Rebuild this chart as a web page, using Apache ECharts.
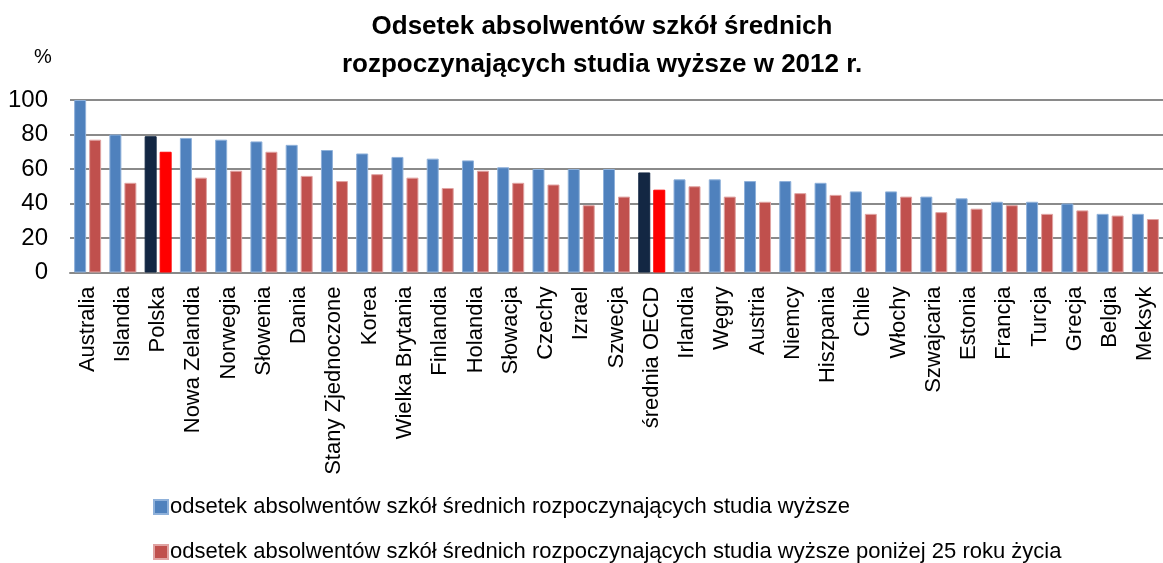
<!DOCTYPE html>
<html>
<head>
<meta charset="utf-8">
<script src="https://cdn.jsdelivr.net/npm/echarts@6/dist/echarts.min.js"></script>
<style>
  html,body{margin:0;padding:0;background:#fff;}
  #chart{width:1163px;height:563px;}
</style>
</head>
<body>
<div id="chart"></div>
<script>
var kraje = ['Australia','Islandia','Polska','Nowa Zelandia','Norwegia','Słowenia','Dania','Stany Zjednoczone','Korea','Wielka Brytania','Finlandia','Holandia','Słowacja','Czechy','Izrael','Szwecja','średnia OECD','Irlandia','Węgry','Austria','Niemcy','Hiszpania','Chile','Włochy','Szwajcaria','Estonia','Francja','Turcja','Grecja','Belgia','Meksyk'];
// odsetek absolwentów rozpoczynających studia wyższe
var ogolem = [100,80,79,78,77,76,74,71,69,67,66,65,61,60,60,60,58,54,54,53,53,52,47,47,44,43,41,41,40,34,34];
// to samo, poniżej 25 roku życia
var ponizej25 = [77,52,70,55,59,70,56,53,57,55,49,59,52,51,39,44,48,50,44,41,46,45,34,44,35,37,39,34,36,33,31];
var yTicks = [0,20,40,60,80,100];
var wyrozniane = ['Polska','średnia OECD'];

var nazwa1 = 'odsetek absolwentów szkół średnich rozpoczynających studia wyższe';
var nazwa2 = 'odsetek absolwentów szkół średnich rozpoczynających studia wyższe poniżej 25 roku życia';

var font = "'Liberation Sans', Arial, sans-serif";

var chart = echarts.init(document.getElementById('chart'));

// Polska i średnia OECD maja inne kolory
var dane1 = [], dane2 = [];
for (var i = 0; i < kraje.length; i++) {
    if (wyrozniane.indexOf(kraje[i]) >= 0) {
        dane1.push({value: ogolem[i], itemStyle: {color: '#132743', borderColor: '#132743'}});
        dane2.push({value: ponizej25[i], itemStyle: {color: '#ff0000', borderColor: '#ff0000'}});
    } else {
        dane1.push(ogolem[i]);
        dane2.push(ponizej25[i]);
    }
}

var legendaTekst = {
    fontFamily: font,
    fontSize: 22,
    color: '#000',
    padding: [0, 0, 0, -3]
};

var option = {
    animation: false,
    textStyle: {fontFamily: font},
    title: {
        text: 'Odsetek absolwentów szkół średnich\nrozpoczynających studia wyższe w 2012 r.',
        left: 597,
        textAlign: 'center',
        top: 3,
        textStyle: {
            fontFamily: font,
            fontSize: 26,
            fontWeight: 'bold',
            color: '#000',
            lineHeight: 38
        }
    },
    graphic: [{
        type: 'text',
        left: 34,
        top: 47,
        style: {text: '%', fontFamily: font, fontSize: 20, fill: '#000'}
    }],
    legend: [{
        left: 148,
        top: 491,
        icon: 'rect',
        itemWidth: 14,
        itemHeight: 14,
        data: [nazwa1],
        textStyle: legendaTekst
    }, {
        left: 148,
        top: 536,
        icon: 'rect',
        itemWidth: 14,
        itemHeight: 14,
        data: [nazwa2],
        textStyle: legendaTekst
    }],
    grid: {
        left: 70,
        top: 100,
        width: 1104,
        height: 172.5
    },
    xAxis: {
        type: 'category',
        data: kraje,
        axisLine: {lineStyle: {color: '#888888', width: 2}},
        axisTick: {show: false},
        axisLabel: {
            interval: 0,
            rotate: 90,
            margin: 14,
            fontFamily: font,
            fontSize: 22,
            color: '#000'
        }
    },
    yAxis: {
        type: 'value',
        min: yTicks[0],
        max: yTicks[yTicks.length - 1],
        interval: 20,
        axisLine: {show: false},
        axisTick: {show: false},
        splitLine: {lineStyle: {color: '#8a8a8a', width: 2}},
        axisLabel: {
            margin: 22,
            fontFamily: font,
            fontSize: 24,
            color: '#000'
        }
    },
    series: [{
        name: nazwa1,
        type: 'bar',
        barWidth: 12,
        barGap: '25%',
        itemStyle: {color: '#4f81bd', borderColor: '#8fb1da', borderWidth: 1},
        data: dane1
    }, {
        name: nazwa2,
        type: 'bar',
        barWidth: 12,
        itemStyle: {color: '#c0504d', borderColor: '#e0a3a2', borderWidth: 1},
        data: dane2
    }]
};
chart.setOption(option);
</script>
</body>
</html>
